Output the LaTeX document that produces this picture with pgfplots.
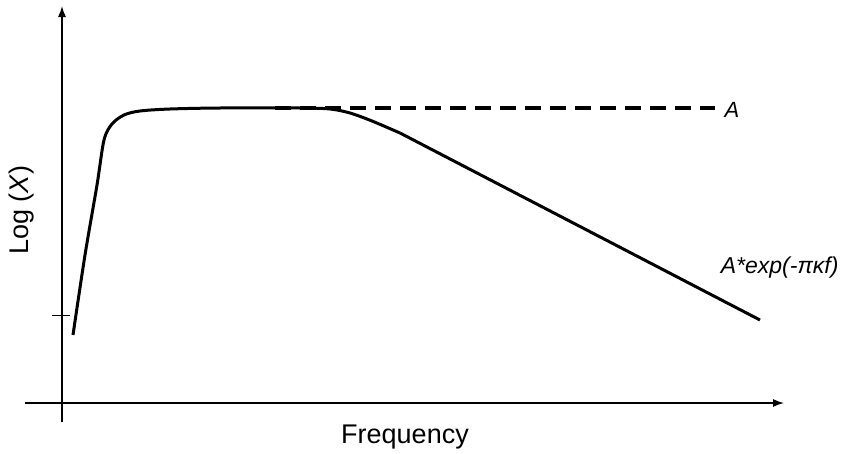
\documentclass[border=0pt]{standalone}
\usepackage{pgfplots}
\pgfplotsset{compat=1.18}
\usepackage{fontspec}
\setmainfont{Liberation Sans}
\usetikzlibrary{arrows.meta}
\begin{document}
\begin{tikzpicture}
\begin{axis}[x=1pt,y=1pt,xmin=0,xmax=844,ymin=0,ymax=453,hide axis,clip=false,
  y dir=reverse, scale only axis]
\path (axis cs:0,0) rectangle (axis cs:844,453);
% axes
\draw[line width=1.3pt,-{Latex[length=11pt,width=8pt]}] (axis cs:62,422) -- (axis cs:62,6);
\draw[line width=1.3pt,-{Latex[length=11pt,width=8pt]}] (axis cs:25,403) -- (axis cs:784,403);
\draw[line width=0.8pt] (axis cs:52,315) -- (axis cs:70,315);
% curve
\addplot[line width=3pt,smooth,tension=0.5] coordinates {
(73,335)(85,255)(97,185)(104,140)(112,124)(124,115)(140,111)(170,109)(220,108)(300,108)(330,109)(350,113)(372,121)(400,133)};
\addplot[line width=3pt] coordinates {(400,133)(760,320)};
\addplot[line width=3.5pt,dash pattern=on 16pt off 9pt] coordinates {(275,108)(715,108)};
\node[anchor=west,font=\fontsize{22}{24}\selectfont\itshape] at (axis cs:721,110) {A};
\node[anchor=east,font=\fontsize{23}{26}\selectfont\itshape] at (axis cs:842,268) {A*exp(-πκf)};
\node[font=\fontsize{27}{30}\selectfont] at (axis cs:405,437) {Frequency};
\node[rotate=90,font=\fontsize{27}{30}\selectfont] at (axis cs:22,210) {Log (\textit{X})};
\end{axis}
\end{tikzpicture}
\end{document}
